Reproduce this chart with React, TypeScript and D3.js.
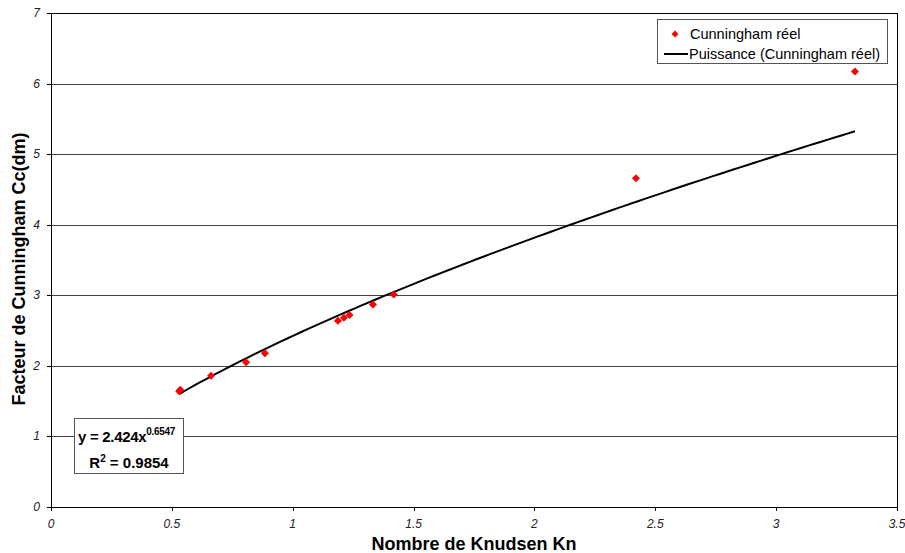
import React from "react";
import * as d3 from "d3";

const knValues = [0.53, 0.535, 0.662, 0.807, 0.885, 1.187, 1.212, 1.235, 1.332, 1.418, 2.42, 3.326];
const ccValues = [1.64, 1.66, 1.86, 2.05, 2.18, 2.64, 2.68, 2.72, 2.87, 3.01, 4.66, 6.17];
const xTicks = [0, 0.5, 1, 1.5, 2, 2.5, 3, 3.5];
const yTicks = [0, 1, 2, 3, 4, 5, 6, 7];
const fitA = 2.424;
const fitB = 0.6547;

const W = 905, H = 553;
const L = 51, R = 897, T = 13, B = 507;
const FONT = "'Liberation Sans', Arial, sans-serif";

export default function App() {
  const x = d3.scaleLinear().domain([0, 3.5]).range([L, R]);
  const y = d3.scaleLinear().domain([0, 7]).range([B, T]);
  const xMin = d3.min(knValues)!, xMax = d3.max(knValues)!;
  const fitPts = d3.range(0, 101).map(i => {
    const kx = xMin + (xMax - xMin) * i / 100;
    return [kx, fitA * Math.pow(kx, fitB)] as [number, number];
  });
  const line = d3.line<[number, number]>().x(d => x(d[0])).y(d => y(d[1]));
  const diamond = (cx: number, cy: number, r = 4) =>
    `M${cx},${cy - r}L${cx + r},${cy}L${cx},${cy + r}L${cx - r},${cy}Z`;

  return (
    <svg width={W} height={H} style={{ position: "absolute", left: 0, top: 0, background: "#fff" }} fontFamily={FONT}>
      <rect x={0} y={0} width={W} height={H} fill="#fff" />
      {yTicks.filter(t => t > 0).map(t => (
        <line key={t} x1={L} x2={R} y1={Math.round(y(t)) + 0.5} y2={Math.round(y(t)) + 0.5}
          stroke={t === 7 ? "#000" : "#444"} strokeWidth={1} />
      ))}
      <line x1={L + 0.5} x2={L + 0.5} y1={T} y2={B} stroke="#000" />
      <line x1={R + 0.5} x2={R + 0.5} y1={T} y2={B} stroke="#000" />
      <line x1={L} x2={R} y1={B + 0.5} y2={B + 0.5} stroke="#000" />
      {yTicks.map(t => (
        <g key={t}>
          <line x1={L - 4} x2={L} y1={Math.round(y(t)) + 0.5} y2={Math.round(y(t)) + 0.5} stroke="#000" />
          <text x={40} y={y(t) + 4} textAnchor="end" fontSize={12} fontStyle="italic" fill="#222">{t}</text>
        </g>
      ))}
      {xTicks.map(t => (
        <g key={t}>
          <line x1={Math.round(x(t)) + 0.5} x2={Math.round(x(t)) + 0.5} y1={B} y2={B + 4} stroke="#000" />
          <text x={x(t)} y={528} textAnchor="middle" fontSize={12} fontStyle="italic" fill="#222">{t}</text>
        </g>
      ))}
      <path d={line(fitPts)!} fill="none" stroke="#000" strokeWidth={2} />
      {knValues.map((k, i) => (
        <path key={i} d={diamond(x(k), y(ccValues[i]))} fill="#f00" />
      ))}
      <rect x={657.5} y={19.5} width={230} height={44} fill="#fff" stroke="#555" />
      <path d={diamond(675, 34, 3.5)} fill="#f00" />
      <text x={690} y={39} fontSize={14.5} fill="#000">Cunningham réel</text>
      <line x1={664} x2={688} y1={54} y2={54} stroke="#000" strokeWidth={2} />
      <text x={689} y={59} fontSize={14.5} fill="#000">Puissance (Cunningham réel)</text>
      <rect x={74.5} y={418.5} width={109} height={55} fill="#fff" stroke="#555" />
      <text x={78} y={442} fontSize={15} fontWeight="bold" fill="#000" letterSpacing={-0.3}>
        y = 2.424x<tspan dy={-7} fontSize={10}>0.6547</tspan>
      </text>
      <text x={129} y={468} textAnchor="middle" fontSize={15} fontWeight="bold" fill="#000">
        R<tspan dy={-6} fontSize={10}>2</tspan><tspan dy={6}> = 0.9854</tspan>
      </text>
      <text x={(L + R) / 2} y={550} textAnchor="middle" fontSize={18} fontWeight="bold" fill="#000">Nombre de Knudsen Kn</text>
      <text transform={`translate(25,${(T + B) / 2 + 9}) rotate(-90)`} textAnchor="middle" fontSize={18} fontWeight="bold" fill="#000">Facteur de Cunningham Cc(dm)</text>
    </svg>
  );
}
